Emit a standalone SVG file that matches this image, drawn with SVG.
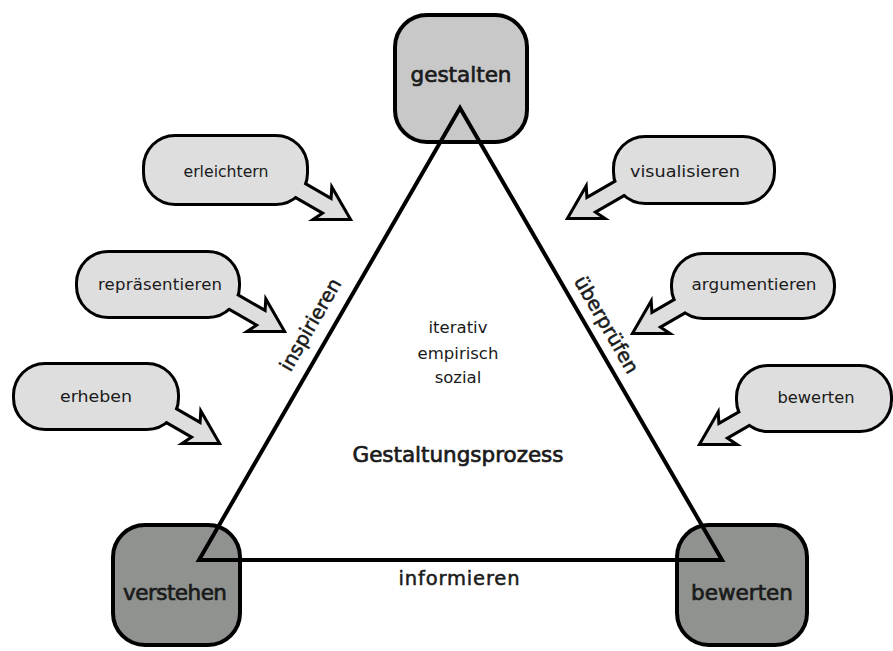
<svg xmlns="http://www.w3.org/2000/svg" width="893" height="651" viewBox="0 0 893 651">
<style>
text { font-family: "DejaVu Sans", "Liberation Sans", sans-serif; fill: #1a1a1a; text-anchor: middle; }
.ol { fill: #000; stroke: #000; stroke-width: 6; stroke-linejoin: miter; }
.bf { fill: #dedede; stroke: none; }
.bt { font-size: 16.5px; }
.node { stroke: #000; stroke-width: 4; }
.top { fill: #c8c8c8; }
.bottom { fill: #8f928f; }
.nl { font-size: 21.5px; stroke: #1a1a1a; stroke-width: 0.7; }
.el { font-size: 19.5px; stroke: #1a1a1a; stroke-width: 0.5; }
.ct { font-size: 16.5px; }
.edge { fill: none; stroke: #000; stroke-width: 4; stroke-linejoin: miter; }
</style>
<defs>
<path id="tail" d="M0,0 L-26,-15 L-22,-7 L-70,-7 L-70,7 L-22,7 L-26,15 Z"/>
<g id="s-erleichtern"><rect x="145" y="137" width="161" height="66" rx="30"/><use href="#tail" transform="translate(348 218) rotate(30)"/></g>
<g id="s-repraesentieren"><rect x="78" y="253" width="160" height="63" rx="30"/><use href="#tail" transform="translate(282 330) rotate(30)"/></g>
<g id="s-erheben"><rect x="15" y="365" width="162" height="63" rx="30"/><use href="#tail" transform="translate(217 442) rotate(30)"/></g>
<g id="s-visualisieren"><rect x="615" y="138" width="158" height="64" rx="30"/><use href="#tail" transform="translate(570 217) rotate(150)"/></g>
<g id="s-argumentieren"><rect x="673" y="255" width="160" height="62" rx="30"/><use href="#tail" transform="translate(635 332) rotate(150)"/></g>
<g id="s-bewerten"><rect x="738" y="367" width="152" height="63" rx="30"/><use href="#tail" transform="translate(702 443) rotate(150)"/></g>
</defs>
<rect width="893" height="651" fill="#fff"/>

<g id="node-gestalten">
<rect class="node top" x="395" y="15" width="132" height="127" rx="32"/>
<text class="nl" x="461" y="82" textLength="101" lengthAdjust="spacing">gestalten</text>
</g>
<g id="node-verstehen">
<rect class="node bottom" x="113" y="525" width="127" height="120" rx="32"/>
<text class="nl" x="175" y="600" textLength="104" lengthAdjust="spacing">verstehen</text>
</g>
<g id="node-bewerten">
<rect class="node bottom" x="677" y="525" width="130" height="120" rx="32"/>
<text class="nl" x="742" y="600" textLength="102" lengthAdjust="spacing">bewerten</text>
</g>

<g id="bubble-erleichtern">
<use href="#s-erleichtern" class="ol"/><use href="#s-erleichtern" class="bf"/>
<text class="bt" x="226" y="177" textLength="85" lengthAdjust="spacingAndGlyphs">erleichtern</text>
</g>
<g id="bubble-repraesentieren">
<use href="#s-repraesentieren" class="ol"/><use href="#s-repraesentieren" class="bf"/>
<text class="bt" x="160" y="290" textLength="124" lengthAdjust="spacing">repräsentieren</text>
</g>
<g id="bubble-erheben">
<use href="#s-erheben" class="ol"/><use href="#s-erheben" class="bf"/>
<text class="bt" x="96" y="402" textLength="72" lengthAdjust="spacingAndGlyphs">erheben</text>
</g>
<g id="bubble-visualisieren">
<use href="#s-visualisieren" class="ol"/><use href="#s-visualisieren" class="bf"/>
<text class="bt" x="685" y="177" textLength="110" lengthAdjust="spacingAndGlyphs">visualisieren</text>
</g>
<g id="bubble-argumentieren">
<use href="#s-argumentieren" class="ol"/><use href="#s-argumentieren" class="bf"/>
<text class="bt" x="754" y="290" textLength="125" lengthAdjust="spacingAndGlyphs">argumentieren</text>
</g>
<g id="bubble-bewerten">
<use href="#s-bewerten" class="ol"/><use href="#s-bewerten" class="bf"/>
<text class="bt" x="816" y="403" textLength="77" lengthAdjust="spacingAndGlyphs">bewerten</text>
</g>

<g id="connectors">
<path class="edge" d="M460,108 L199,560 L722,560 Z"/>
<text class="el" transform="translate(311 325) rotate(-60)" x="0" y="6">inspirieren</text>
<text class="el" transform="translate(606 325) rotate(60)" x="0" y="6">überprüfen</text>
<text class="el" x="459" y="585" textLength="121" lengthAdjust="spacing">informieren</text>
</g>

<g id="center-text">
<text class="ct" x="458" y="333">iterativ</text>
<text class="ct" x="458" y="359">empirisch</text>
<text class="ct" x="458" y="383">sozial</text>
<text class="nl" x="458" y="462" textLength="211" lengthAdjust="spacing">Gestaltungsprozess</text>
</g>
</svg>
